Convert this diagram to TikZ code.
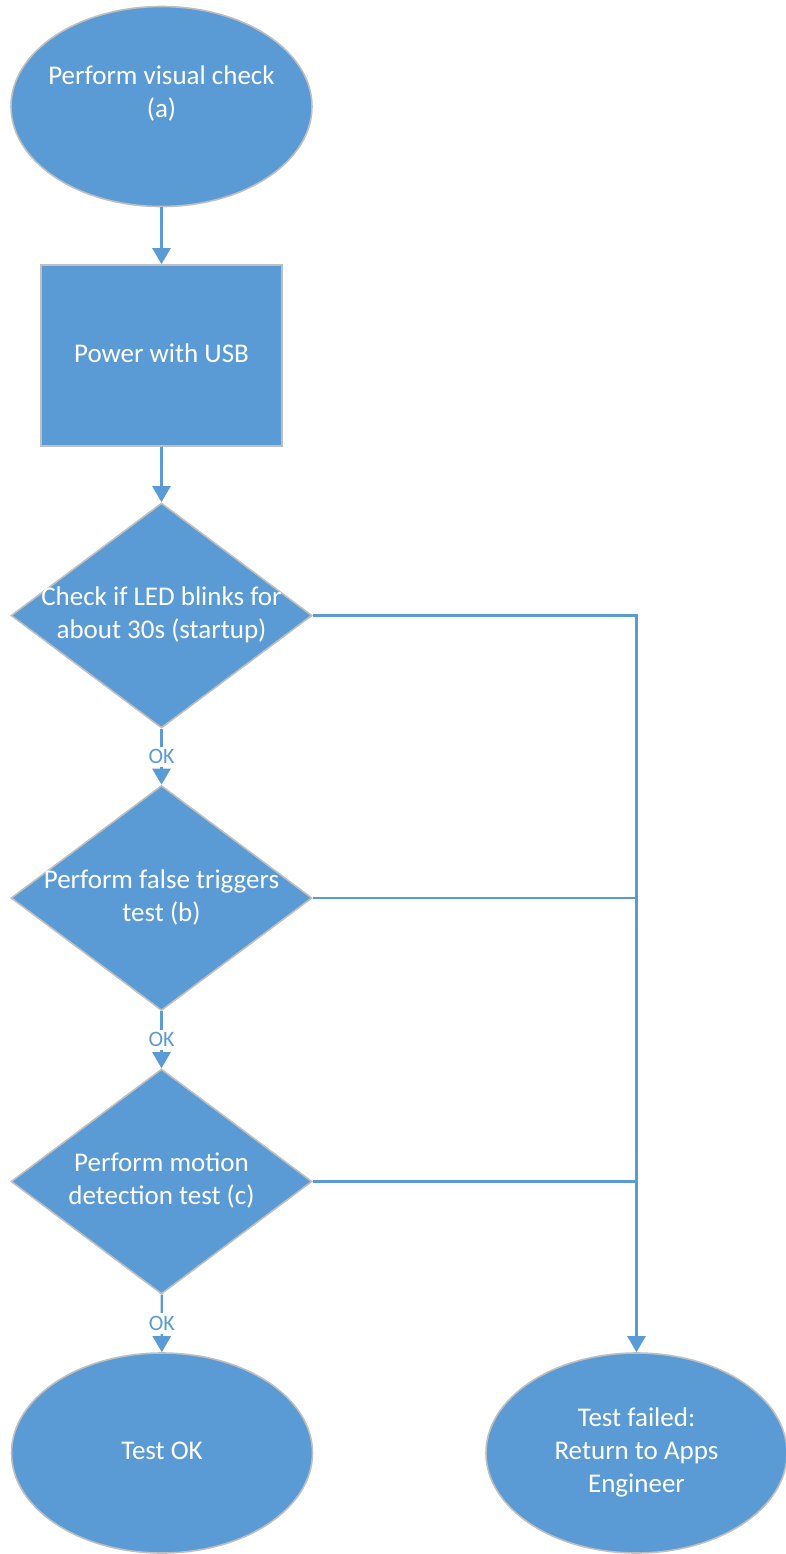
\documentclass[tikz,border=0pt]{standalone}
\usepackage{fontspec}
\setmainfont{Carlito}
\usetikzlibrary{shapes.geometric,arrows.meta}
\definecolor{flowblue}{HTML}{5B9BD5}
\definecolor{flowedge}{HTML}{BFBFBF}
\newcommand{\flowtext}[1]{\makebox[0pt]{\begin{tabular}{@{}c@{}}#1\end{tabular}}}

\begin{document}
\begin{tikzpicture}[x=0.5pt, y=-0.5pt,
    block/.style={draw=flowedge, line width=0.8pt, fill=flowblue, text=white, inner sep=0pt, font=\fontsize{13.5}{16.5}\selectfont},
    terminal/.style={block, ellipse, minimum width=150.5pt, minimum height=100pt},
    process/.style={block, rectangle, minimum width=120.5pt, minimum height=90.5pt},
    decision/.style={block, diamond, minimum width=150.5pt, minimum height=112.5pt},
    link/.style={flowblue, line width=1.2pt},
    tip/.style={-{Triangle[width=9pt,length=8pt]}},
    okmark/.style={fill=white, text=flowblue, inner sep=1.5pt, font=\fontsize{11}{13}\selectfont}]
    \useasboundingbox (0,0) rectangle (786,1554);
    \node[terminal] (visual) at (161.5,106.5) {\flowtext{Perform visual check\\(a)\\[12pt]}};
    \node[process] (usb) at (161.5,355.5) {\flowtext{Power with USB}};
    \node[decision] (led) at (161.5,615.5) {\flowtext{Check if LED blinks for\\about 30s (startup)}};
    \node[decision] (falsetrig) at (161.5,898) {\flowtext{Perform false triggers\\test (b)}};
    \node[decision] (motion) at (161.5,1181.5) {\flowtext{Perform motion\\detection test (c)}};
    \node[terminal] (passed) at (162,1453) {\flowtext{Test OK}};
    \node[terminal] (failed) at (636.5,1453) {\flowtext{Test failed:\\Return to Apps\\Engineer}};
    \draw[link, tip] (visual) -- (usb);
    \draw[link, tip] (usb) -- (led);
    \draw[link, tip] (led) -- node[okmark] {OK} (falsetrig);
    \draw[link, tip] (falsetrig) -- node[okmark] {OK} (motion);
    \draw[link, tip] (motion) -- node[okmark] {OK} (passed);
    \draw[link, tip] (led.east) -| (failed.north);
    \draw[link] (falsetrig.east) -- (falsetrig.east -| failed.north);
    \draw[link] (motion.east) -- (motion.east -| failed.north);
\end{tikzpicture}
\end{document}
